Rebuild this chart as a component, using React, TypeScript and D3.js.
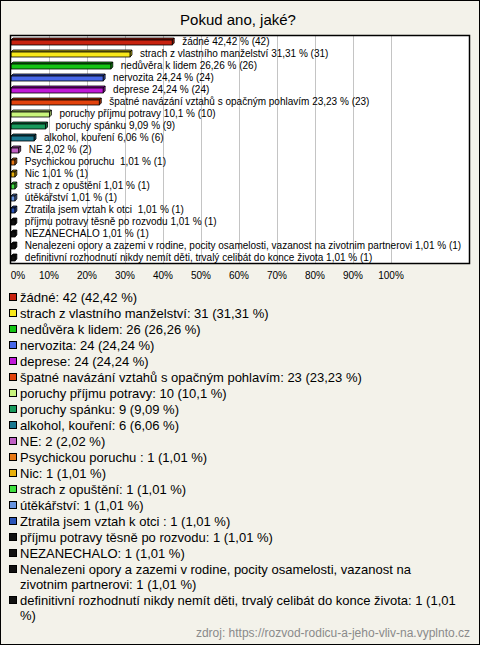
import React from "react";
import * as d3 from "d3";

const categories: string[] = [
  "žádné",
  "strach z vlastního manželství",
  "nedůvěra k lidem",
  "nervozita",
  "deprese",
  "špatné navázání vztahů s opačným pohlavím",
  "poruchy příjmu potravy",
  "poruchy spánku",
  "alkohol, kouření",
  "NE",
  "Psychickou poruchu ",
  "Nic",
  "strach z opuštění",
  "útěkářství",
  "Ztratila jsem vztah k otci ",
  "příjmu potravy těsně po rozvodu",
  "NEZANECHALO",
  "Nenalezeni opory a zazemi v rodine, pocity osamelosti, vazanost na zivotnim partnerovi",
  "definitivní rozhodnutí nikdy nemít děti, trvalý celibát do konce života",
];
const counts: number[] = [42, 31, 26, 24, 24, 23, 10, 9, 6, 2, 1, 1, 1, 1, 1, 1, 1, 1, 1];
const percents: number[] = [42.42, 31.31, 26.26, 24.24, 24.24, 23.23, 10.1, 9.09, 6.06, 2.02, 1.01, 1.01, 1.01, 1.01, 1.01, 1.01, 1.01, 1.01, 1.01];
const colors: string[] = [
  "#c8220f", "#f8e81a", "#14c414", "#4868e8", "#c018d8", "#e2420c", "#c8f47c", "#189a5c",
  "#1a7890", "#c060c4", "#e87814", "#e8b00c", "#40e040", "#6894e0", "#2a54b8",
  "#111111", "#111111", "#111111", "#111111",
];
const ticks: number[] = [0, 10, 20, 30, 40, 50, 60, 70, 80, 90, 100];
// legend lines (manual wrapping as in the reference)
const legendLines: string[][] = [
  ["žádné: 42 (42,42 %)"],
  ["strach z vlastního manželství: 31 (31,31 %)"],
  ["nedůvěra k lidem: 26 (26,26 %)"],
  ["nervozita: 24 (24,24 %)"],
  ["deprese: 24 (24,24 %)"],
  ["špatné navázání vztahů s opačným pohlavím: 23 (23,23 %)"],
  ["poruchy příjmu potravy: 10 (10,1 %)"],
  ["poruchy spánku: 9 (9,09 %)"],
  ["alkohol, kouření: 6 (6,06 %)"],
  ["NE: 2 (2,02 %)"],
  ["Psychickou poruchu : 1 (1,01 %)"],
  ["Nic: 1 (1,01 %)"],
  ["strach z opuštění: 1 (1,01 %)"],
  ["útěkářství: 1 (1,01 %)"],
  ["Ztratila jsem vztah k otci : 1 (1,01 %)"],
  ["příjmu potravy těsně po rozvodu: 1 (1,01 %)"],
  ["NEZANECHALO: 1 (1,01 %)"],
  ["Nenalezeni opory a zazemi v rodine, pocity osamelosti, vazanost na", "zivotnim partnerovi: 1 (1,01 %)"],
  ["definitivní rozhodnutí nikdy nemít děti, trvalý celibát do konce života: 1 (1,01", "%)"],
];
const source = "zdroj: https://rozvod-rodicu-a-jeho-vliv-na.vyplnto.cz";

const W = 480;
const H = 645;
const FONT = "'Liberation Sans', Arial, sans-serif";

const fmt = (v: number) => String(v).replace(".", ",");

export default function App() {
  const plot = { left: 10, right: 470, top: 35, bottom: 263 };
  const x = d3.scaleLinear().domain([0, 100]).range([11, 391]);
  const y = d3.scaleBand<string>().domain(categories.map((c, i) => i + "")).range([plot.top, plot.bottom]);
  const depth = 2;

  let extra = 0;
  const legendRows = legendLines.map((lines, i) => {
    const base = 302 + 16 * i + extra;
    extra += (lines.length - 1) * 15;
    return { lines, base, i };
  });

  return (
    <svg
      width={W}
      height={H}
      style={{ position: "absolute", left: 0, top: 0, fontFamily: FONT }}
    >
      <rect x={0.5} y={0.5} width={W - 1} height={H - 1} fill="#f3f2ea" stroke="#000" />
      <text x={238} y={25} fontSize={15} textAnchor="middle" fill="#000">
        Pokud ano, jaké?
      </text>
      <rect x={plot.left + 0.5} y={plot.top + 0.5} width={plot.right - plot.left - 1} height={plot.bottom - plot.top} fill="#fff" stroke="none" />
      {ticks.filter((t) => t > 0).map((t) => (
        <line key={t} x1={Math.round(x(t)) + 0.5} x2={Math.round(x(t)) + 0.5} y1={plot.top} y2={plot.bottom} stroke="#c4c4c4" />
      ))}
      {categories.map((c, i) => {
        const y0 = y(i + "")!;
        const x0 = x(0);
        const x1 = x(percents[i]);
        const fy = y0 + 5;
        const fh = 5;
        const col = colors[i];
        const dark = d3.color(col)!.darker(0.8).formatHex();
        return (
          <g key={i}>
            <polygon
              points={`${x0},${fy} ${x0 + depth},${fy - depth} ${x1 + depth},${fy - depth} ${x1},${fy}`}
              fill={dark}
              stroke="#000"
              strokeWidth={0.8}
            />
            <polygon
              points={`${x1},${fy} ${x1 + depth},${fy - depth} ${x1 + depth},${fy + fh - depth} ${x1},${fy + fh}`}
              fill={dark}
              stroke="#000"
              strokeWidth={0.8}
            />
            <rect x={x0} y={fy} width={x1 - x0} height={fh} fill={col} stroke="#000" strokeWidth={0.8} />
            <text x={x1 + 10} y={y0 + 10} fontSize={10} fill="#000" style={{ whiteSpace: "pre" }}>
              {`${c} ${fmt(percents[i])} % (${counts[i]})`}
            </text>
          </g>
        );
      })}
      <rect x={plot.left + 0.5} y={plot.top + 0.5} width={plot.right - plot.left - 1} height={plot.bottom - plot.top} fill="none" stroke="#000" strokeWidth={1.5} />
      {ticks.map((t) => (
        <text key={t} x={t === 0 ? x(t) + 7 : x(t)} y={279} fontSize={10} textAnchor="middle" fill="#000">
          {t}%
        </text>
      ))}
      {legendRows.map(({ lines, base, i }) => (
        <g key={i}>
          <rect x={9.5} y={base - 8.5} width={7} height={7} fill={colors[i]} stroke="#000" />
          {lines.map((ln, k) => (
            <text key={k} x={20} y={base + k * 15} fontSize={13} fill="#000" style={{ whiteSpace: "pre" }}>
              {ln}
            </text>
          ))}
        </g>
      ))}
      <text x={470} y={637} fontSize={12} textAnchor="end" fill="#8a8a8a">
        {source}
      </text>
    </svg>
  );
}
